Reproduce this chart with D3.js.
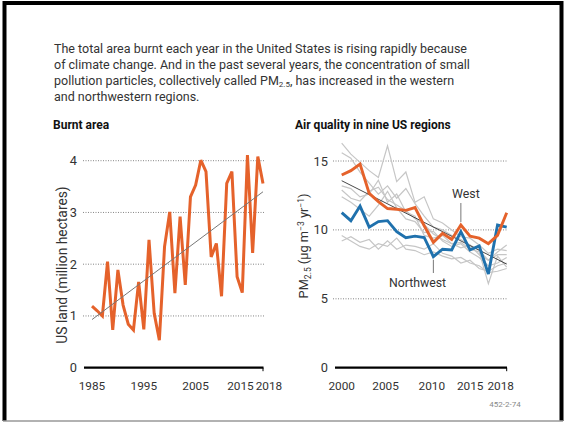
<!DOCTYPE html>
<html><head><meta charset="utf-8">
<script src="https://cdn.jsdelivr.net/npm/d3@7"></script>
<style>
html,body{margin:0;padding:0;background:#fff;}
svg{display:block;font-family:Roboto,"Open Sans",sans-serif;}
</style></head>
<body>
<svg id="c" width="566" height="424"></svg>
<script>
// ---------- data ----------
const burntYears = d3.range(1985, 2019);
const burntArea = [1.19,1.10,1.00,2.05,0.73,1.89,1.21,0.84,0.73,1.66,0.74,2.47,1.05,0.53,2.34,3.01,1.44,2.92,1.60,3.30,3.53,4.01,3.79,2.14,2.40,1.38,3.56,3.79,1.76,1.45,4.11,2.22,4.08,3.56];
const burntTrend = [0.93, 3.40]; // at 1985 and 2018
const burntYTicks = [0,1,2,3,4];
const burntXTicks = [1985,1995,2005,2015,2018];

const pmYears = d3.range(2000, 2019);
const pmWest = [13.98,14.30,14.78,12.65,12.05,11.55,11.50,11.42,11.62,10.30,9.10,9.75,9.30,10.35,9.55,9.40,9.00,9.60,11.25];
const pmNorthwest = [11.25,10.67,11.73,10.20,10.60,10.67,9.87,9.43,9.55,9.45,8.06,8.60,8.55,9.87,8.55,8.84,6.80,10.35,10.20];
const pmOther1 = [16.3,15.5,14.9,14.3,13.8,16.1,13.5,14.2,12.0,12.4,10.8,10.5,10.0,9.5,9.4,8.9,8.3,8.6,8.5];
const pmOther2 = [15.6,15.2,14.2,13.4,12.6,13.2,12.3,13.0,11.9,11.0,10.2,10.0,9.6,9.3,8.9,8.5,7.8,8.2,8.2];
const pmOther3 = [13.2,13.0,12.4,12.6,13.6,12.0,12.6,11.3,11.0,9.6,9.4,9.6,9.0,9.1,8.6,8.4,6.1,8.1,7.3];
const pmOther4 = [12.4,12.0,11.5,11.0,11.8,12.8,11.6,10.8,10.6,9.8,9.9,9.2,8.8,9.0,8.4,8.0,7.4,7.6,8.0];
const pmOther5 = [12.9,12.3,12.1,12.8,13.1,12.2,11.8,11.4,10.8,10.4,9.7,9.3,9.0,8.7,8.9,8.2,7.8,8.4,8.9];
const pmOther6 = [9.6,9.2,8.8,8.6,9.0,8.8,9.4,8.6,8.5,8.2,8.4,8.1,7.9,8.0,7.6,7.4,6.9,7.0,7.2];
const pmOther7 = [9.2,9.5,9.1,9.3,8.6,9.2,8.6,8.9,8.8,8.6,9.0,8.3,8.1,7.6,7.8,7.2,7.0,7.4,7.6];
const pmTrend = [13.57, 7.52]; // at 2000 and 2018
const pmYTicks = [0,5,10,15];
const pmXTicks = [2000,2005,2010,2015,2018];

const introLines = [
  "The total area burnt each year in the United States is rising rapidly because",
  "of climate change. And in the past several years, the concentration of small",
  ["pollution particles, collectively called PM", "2.5", ", has increased in the western"],
  "and northwestern regions."
];

// ---------- drawing ----------
const svg = d3.select("#c");
const ORANGE = "#e5622b", BLUE = "#1f71ad", TXT = "#333";

// frame
svg.append("rect").attr("x",0).attr("y",0).attr("width",566).attr("height",424).attr("fill","#fff");
svg.append("line").attr("x1",4.5).attr("x2",4.5).attr("y1",1).attr("y2",421).attr("stroke","#000").attr("stroke-width",4);
svg.append("line").attr("x1",3).attr("x2",563).attr("y1",3).attr("y2",3).attr("stroke","#000").attr("stroke-width",4);
svg.append("line").attr("x1",561.5).attr("x2",561.5).attr("y1",1).attr("y2",421).attr("stroke","#000").attr("stroke-width",4);
svg.append("line").attr("x1",3).attr("x2",563).attr("y1",421).attr("y2",421).attr("stroke","#999").attr("stroke-width",1.5);

// intro text
introLines.forEach((ln, i) => {
  const t = svg.append("text").attr("x",54).attr("y",52.5 + i*16)
    .attr("font-size",12.5).attr("fill",TXT);
  if (Array.isArray(ln)) {
    t.append("tspan").text(ln[0]);
    t.append("tspan").attr("font-size",8).attr("dy",2.5).text(ln[1]);
    t.append("tspan").attr("dy",-2.5).text(ln[2]);
  } else t.text(ln);
});

// titles
svg.append("text").attr("x",53).attr("y",129).attr("font-size",12).attr("font-weight","bold").attr("fill","#111").text("Burnt area");
svg.append("text").attr("x",295).attr("y",129).attr("font-size",12).attr("font-weight","bold").attr("fill","#111").text("Air quality in nine US regions");

// ---------- left chart ----------
const xL = d3.scaleLinear().domain([1985,2018]).range([92,263]);
const yL = d3.scaleLinear().domain([0,4]).range([367.7,160.7]);

const gL = svg.append("g");
gL.selectAll("line.grid").data(burntYTicks.filter(d=>d>0)).join("line")
  .attr("x1",83).attr("x2",264).attr("y1",d=>yL(d)).attr("y2",d=>yL(d))
  .attr("stroke","#666").attr("stroke-width",0.8).attr("stroke-dasharray","1,1.5");
gL.selectAll("text.yt").data(burntYTicks).join("text")
  .attr("x",77).attr("y",d=>yL(d)+4.5).attr("text-anchor","end")
  .attr("font-size",12.8).attr("fill",TXT).text(d=>d);

const lineL = d3.line().x((d,i)=>xL(burntYears[i])).y(d=>yL(d));
gL.append("path").datum(burntArea).attr("d",lineL).attr("fill","none")
  .attr("stroke",ORANGE).attr("stroke-width",3).attr("stroke-linejoin","miter").attr("stroke-miterlimit",3);
gL.append("line").attr("x1",xL(1985)).attr("x2",xL(2018))
  .attr("y1",yL(burntTrend[0])).attr("y2",yL(burntTrend[1]))
  .attr("stroke","#777").attr("stroke-width",1);

// axis
gL.append("line").attr("x1",84).attr("x2",263.5).attr("y1",yL(0)).attr("y2",yL(0)).attr("stroke","#000").attr("stroke-width",2.2);
gL.append("line").attr("x1",xL(2018)).attr("x2",xL(2018)).attr("y1",yL(0)).attr("y2",yL(0)+3.5).attr("stroke","#000").attr("stroke-width",1);
const offL = {2015:-7, 2018:6};
gL.selectAll("text.xt").data(burntXTicks).join("text")
  .attr("x",d=>xL(d)+(offL[d]||0)).attr("y",390).attr("text-anchor","middle")
  .attr("font-size",11.8).attr("fill",TXT).text(d=>d);

svg.append("text").attr("transform","translate(67,265) rotate(-90)").attr("text-anchor","middle")
  .attr("font-size",13.8).attr("fill",TXT).text("US land (million hectares)");

// ---------- right chart ----------
const xR = d3.scaleLinear().domain([2000,2018]).range([341.7,506.7]);
const yR = d3.scaleLinear().domain([0,15]).range([367.7,161]);
const gR = svg.append("g");
gR.selectAll("line.grid").data(pmYTicks.filter(d=>d>0)).join("line")
  .attr("x1",333).attr("x2",507).attr("y1",d=>yR(d)).attr("y2",d=>yR(d))
  .attr("stroke","#666").attr("stroke-width",0.8).attr("stroke-dasharray","1,1.5");
gR.selectAll("text.yt").data(pmYTicks).join("text")
  .attr("x",328).attr("y",d=>yR(d)+4.5).attr("text-anchor","end")
  .attr("font-size",12.8).attr("fill",TXT).text(d=>d);

const lineR = d3.line().x((d,i)=>xR(pmYears[i])).y(d=>yR(d));
[pmOther1,pmOther2,pmOther3,pmOther4,pmOther5,pmOther6,pmOther7].forEach(s=>{
  gR.append("path").datum(s).attr("d",lineR).attr("fill","none")
    .attr("stroke","#c6c6c6").attr("stroke-width",1.2);
});
gR.append("line").attr("x1",xR(2000)).attr("x2",xR(2018))
  .attr("y1",yR(pmTrend[0])).attr("y2",yR(pmTrend[1]))
  .attr("stroke","#333").attr("stroke-width",0.9);
gR.append("path").datum(pmNorthwest).attr("d",lineR).attr("fill","none")
  .attr("stroke",BLUE).attr("stroke-width",2.9).attr("stroke-linejoin","miter").attr("stroke-miterlimit",3);
gR.append("path").datum(pmWest).attr("d",lineR).attr("fill","none")
  .attr("stroke",ORANGE).attr("stroke-width",2.9).attr("stroke-linejoin","miter").attr("stroke-miterlimit",3);

// annotations
const wIdx = pmYears.indexOf(2013), nIdx = pmYears.indexOf(2010);
gR.append("line").attr("x1",xR(2013)).attr("x2",xR(2013)).attr("y1",203).attr("y2",yR(pmWest[wIdx])-3)
  .attr("stroke","#555").attr("stroke-width",0.8);
gR.append("text").attr("x",xR(2013)+5).attr("y",198).attr("text-anchor","middle")
  .attr("font-size",12.3).attr("fill",TXT).text("West");
gR.append("line").attr("x1",xR(2010)).attr("x2",xR(2010)).attr("y1",yR(pmNorthwest[nIdx])+3).attr("y2",273)
  .attr("stroke","#555").attr("stroke-width",0.8);
gR.append("text").attr("x",417.5).attr("y",286.5).attr("text-anchor","middle")
  .attr("font-size",12.3).attr("fill",TXT).text("Northwest");

gR.append("line").attr("x1",335).attr("x2",507).attr("y1",yR(0)).attr("y2",yR(0)).attr("stroke","#000").attr("stroke-width",2.2);
gR.append("line").attr("x1",xR(2018)).attr("x2",xR(2018)).attr("y1",yR(0)).attr("y2",yR(0)+3.5).attr("stroke","#000").attr("stroke-width",1);
const offR = {2005:-2, 2010:-1.5, 2015:-9, 2018:-6};
gR.selectAll("text.xt").data(pmXTicks).join("text")
  .attr("x",d=>xR(d)+(offR[d]||0)).attr("y",390).attr("text-anchor","middle")
  .attr("font-size",11.8).attr("fill",TXT).text(d=>d);

const yl = svg.append("text").attr("transform","translate(308,246) rotate(-90)").attr("text-anchor","middle")
  .attr("font-size",12.8).attr("fill",TXT);
yl.append("tspan").text("PM");
yl.append("tspan").attr("font-size",8.5).attr("dy",2.5).text("2.5");
yl.append("tspan").attr("dy",-2.5).text(" (μg m");
yl.append("tspan").attr("font-size",8.5).attr("dy",-4).text("−3");
yl.append("tspan").attr("dy",4).text(" yr");
yl.append("tspan").attr("font-size",8.5).attr("dy",-4).text("−1");
yl.append("tspan").attr("dy",4).text(")");

svg.append("text").attr("x",505).attr("y",407).attr("text-anchor","middle")
  .attr("font-size",8).attr("fill","#888").text("452-2-74");
</script>
</body></html>
